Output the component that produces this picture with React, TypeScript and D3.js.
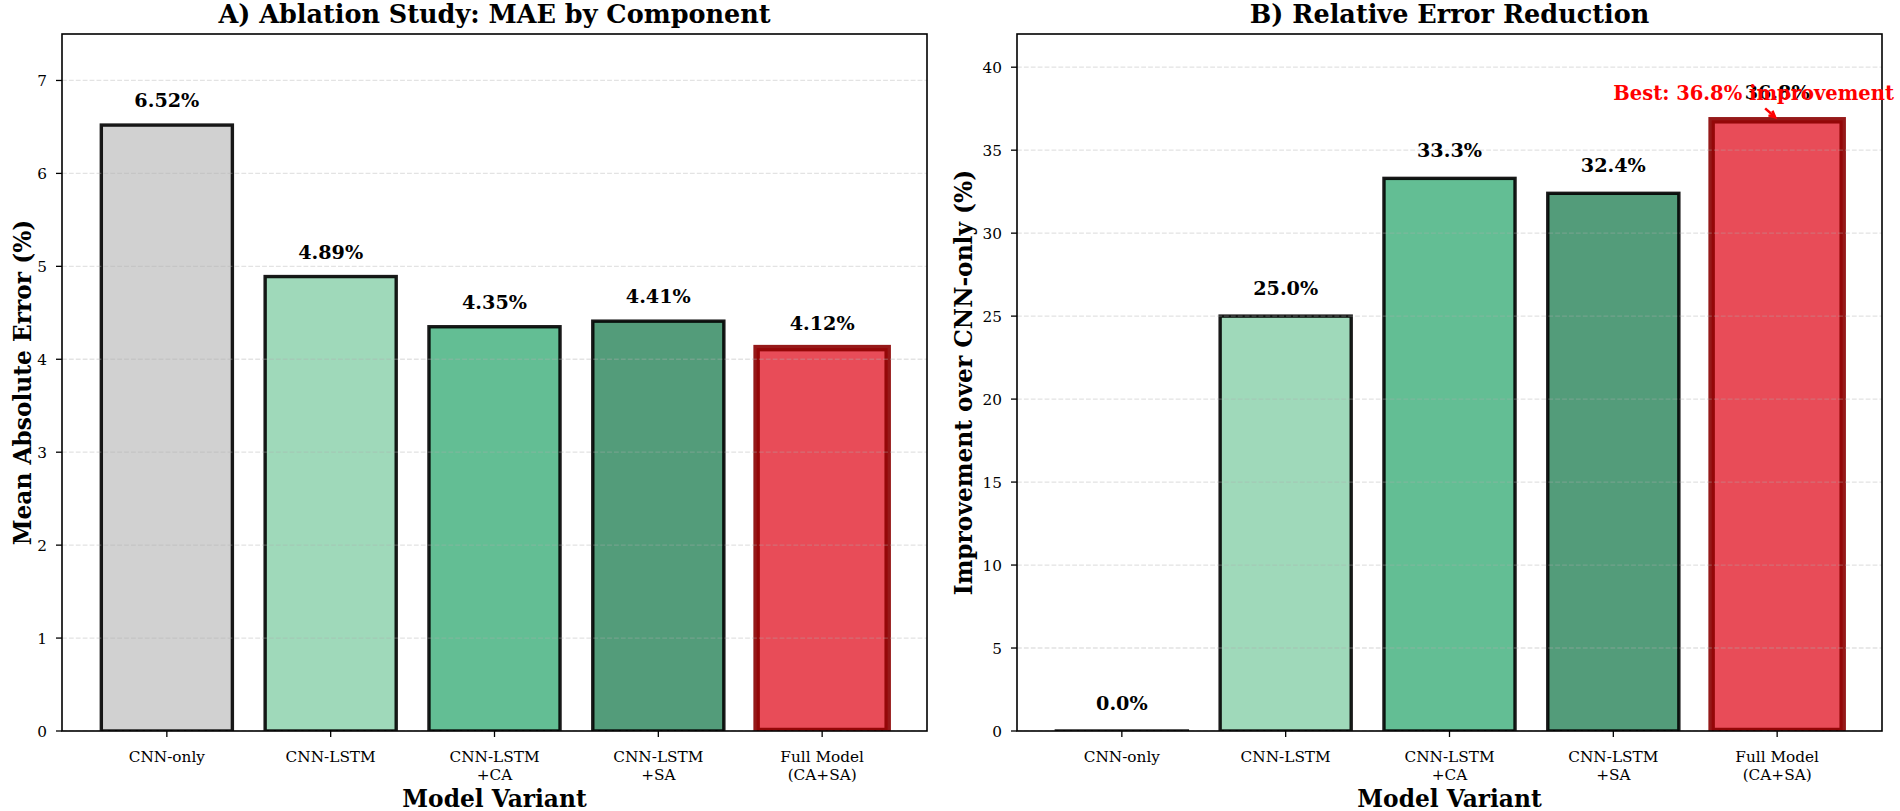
import React from 'react';
import * as d3 from 'd3';

const categories = ['CNN-only', 'CNN-LSTM', 'CNN-LSTM\n+CA', 'CNN-LSTM\n+SA', 'Full Model\n(CA+SA)'];
const maeValues = [6.52, 4.89, 4.35, 4.41, 4.12];
const improvementValues = [0.0, 25.0, 33.3, 32.4, 36.8];
const barColors = ['#cccccc', '#95d5b2', '#52b788', '#40916c', '#e63946'];
const edgeColors = ['#000000', '#000000', '#000000', '#000000', '#8b0000'];
const leftTicks = [0, 1, 2, 3, 4, 5, 6, 7];
const rightTicks = [0, 5, 10, 15, 20, 25, 30, 35, 40];

const FONT = '"DejaVu Serif", serif';
const W = 1900;
const H = 811;
const TOP = 34;
const BOTTOM = 731;
const TICK_FS = 15.3;
const LABEL_FS = 23.3;
const TITLE_FS = 25.5;
const VALUE_FS = 19.2;

type PanelProps = {
  id: string;
  x0: number;
  x1: number;
  values: number[];
  yMax: number;
  ticks: number[];
  fmt: (v: number) => string;
  title: string;
  ylabel: string;
  ylabelX: number;
  labelGap: number;
  annotate?: boolean;
};

function Panel(p: PanelProps) {
  const x = d3.scaleLinear().domain([-0.64, 4.64]).range([p.x0, p.x1]);
  const y = d3.scaleLinear().domain([0, p.yMax]).range([BOTTOM, TOP]);
  const bw = x(0.4) - x(-0.4);
  const cx = (p.x0 + p.x1) / 2;
  const cy = (TOP + BOTTOM) / 2;
  const best = p.values.length - 1;

  let arrow: React.ReactNode = null;
  if (p.annotate) {
    const tipX = x(best) - 2;
    const tipY = y(p.values[best]) - 3;
    const sX = x(best) - 12;
    const sY = y(38) + 8;
    const ang = Math.atan2(tipY - sY, tipX - sX);
    const hl = 7;
    const ha = 0.45;
    const h1x = tipX - hl * Math.cos(ang - ha);
    const h1y = tipY - hl * Math.sin(ang - ha);
    const h2x = tipX - hl * Math.cos(ang + ha);
    const h2y = tipY - hl * Math.sin(ang + ha);
    arrow = (
      <g>
        <path d={`M${sX},${sY}L${tipX},${tipY}`} stroke="#ff0000" strokeWidth={2.5} fill="none" />
        <path d={`M${h1x},${h1y}L${tipX},${tipY}L${h2x},${h2y}`} stroke="#ff0000" strokeWidth={2.5} fill="none" />
        <text x={x(3)} y={y(38)} fontFamily={FONT} fontWeight="bold" fontSize={19.5} fill="#ff0000">
          Best: 36.8% improvement
        </text>
      </g>
    );
  }

  return (
    <g>
      <defs>
        <clipPath id={`clip-${p.id}`}>
          <rect x={p.x0} y={TOP} width={p.x1 - p.x0} height={BOTTOM - TOP} />
        </clipPath>
      </defs>
      <g clipPath={`url(#clip-${p.id})`}>
        {p.values.map((v, i) => {
          const top = y(v);
          const h = Math.max(BOTTOM - top, 0.01);
          return (
            <rect
              key={i}
              x={x(i) - bw / 2}
              y={BOTTOM - h}
              width={bw}
              height={h}
              fill={barColors[i]}
              fillOpacity={0.9}
              stroke={edgeColors[i]}
              strokeOpacity={0.9}
              strokeWidth={i === best ? 6.5 : 3.4}
            />
          );
        })}
        {p.ticks.map((t) => (
          <line
            key={t}
            x1={p.x0}
            x2={p.x1}
            y1={y(t)}
            y2={y(t)}
            stroke="#b0b0b0"
            strokeOpacity={0.35}
            strokeWidth={1.3}
            strokeDasharray="4.8,2.1"
          />
        ))}
      </g>
      <rect x={p.x0} y={TOP} width={p.x1 - p.x0} height={BOTTOM - TOP} fill="none" stroke="#000" strokeWidth={1.6} />
      {p.ticks.map((t) => (
        <g key={t}>
          <line x1={p.x0 - 6} x2={p.x0} y1={y(t)} y2={y(t)} stroke="#000" strokeWidth={1.3} />
          <text x={p.x0 - 15} y={y(t)} dy="0.36em" textAnchor="end" fontFamily={FONT} fontSize={TICK_FS} fill="#000">
            {t}
          </text>
        </g>
      ))}
      {categories.map((c, i) => (
        <g key={c}>
          <line x1={x(i)} x2={x(i)} y1={BOTTOM} y2={BOTTOM + 6} stroke="#000" strokeWidth={1.3} />
          {c.split('\n').map((line, j) => (
            <text key={j} x={x(i)} y={762 + j * 18} textAnchor="middle" fontFamily={FONT} fontSize={TICK_FS} fill="#000">
              {line}
            </text>
          ))}
        </g>
      ))}
      {p.values.map((v, i) => (
        <text
          key={i}
          x={x(i)}
          y={y(v) - p.labelGap}
          textAnchor="middle"
          fontFamily={FONT}
          fontWeight="bold"
          fontSize={VALUE_FS}
          fill="#000"
        >
          {p.fmt(v)}
        </text>
      ))}
      {arrow}
      <text x={cx} y={23} textAnchor="middle" fontFamily={FONT} fontWeight="bold" fontSize={TITLE_FS} fill="#000">
        {p.title}
      </text>
      <text x={cx} y={807} textAnchor="middle" fontFamily={FONT} fontWeight="bold" fontSize={LABEL_FS} fill="#000">
        Model Variant
      </text>
      <text
        transform={`translate(${p.ylabelX},${cy}) rotate(-90)`}
        textAnchor="middle"
        fontFamily={FONT}
        fontWeight="bold"
        fontSize={LABEL_FS}
        fill="#000"
      >
        {p.ylabel}
      </text>
    </g>
  );
}

export default function App() {
  return (
    <svg
      width={W}
      height={H}
      viewBox={`0 0 ${W} ${H}`}
      style={{ position: 'absolute', left: 0, top: 0, background: '#fff' }}
    >
      <rect x={0} y={0} width={W} height={H} fill="#fff" />
      <Panel
        id="a"
        x0={62}
        x1={927}
        values={maeValues}
        yMax={7.5}
        ticks={leftTicks}
        fmt={(v) => `${v.toFixed(2)}%`}
        title="A) Ablation Study: MAE by Component"
        ylabel="Mean Absolute Error (%)"
        ylabelX={31}
        labelGap={18}
      />
      <Panel
        id="b"
        x0={1017}
        x1={1882}
        values={improvementValues}
        yMax={42}
        ticks={rightTicks}
        fmt={(v) => `${v.toFixed(1)}%`}
        title="B) Relative Error Reduction"
        ylabel="Improvement over CNN-only (%)"
        ylabelX={972}
        labelGap={21}
        annotate
      />
    </svg>
  );
}
